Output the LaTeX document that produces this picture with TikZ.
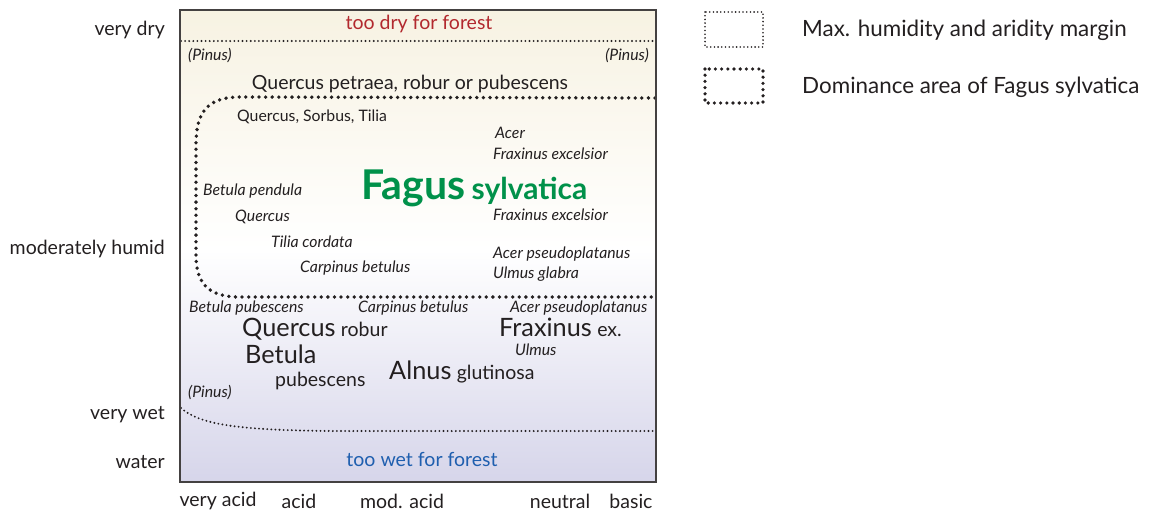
\documentclass[tikz,border=0pt]{standalone}
\usepackage{fontspec}
\setmainfont{Lato}
\definecolor{txt}{HTML}{231F20}
\definecolor{dryred}{HTML}{B2292E}
\definecolor{wetblue}{HTML}{1F5FAF}
\definecolor{fagus}{HTML}{00914A}
\definecolor{topc}{HTML}{F7F2E2}
\definecolor{botc}{HTML}{D6D5EA}
\tikzset{
  lbl/.style={text=txt,inner sep=0pt,font=\fontsize{19.5}{21}\selectfont},
  sp/.style={text=txt,inner sep=0pt,anchor=west,font=\fontsize{15.8}{17}\itshape},
  spup/.style={text=txt,inner sep=0pt,anchor=west,font=\fontsize{15.8}{17}\selectfont},
  big/.style={text=txt,inner sep=0pt,anchor=west,font=\fontsize{25.3}{27}\selectfont},
  finedot/.style={line width=2.1pt,line cap=round,dash pattern=on 0pt off 4.1pt,draw=txt},
  thickdot/.style={line width=3.8pt,line cap=round,dash pattern=on 0pt off 6.6pt,draw=txt},
}
\begin{document}
\begin{tikzpicture}[x=1pt,y=-1pt]
\useasboundingbox (0,0) rectangle (1158,512);
% background gradient
\shade[top color=topc,bottom color=white] (180,10) rectangle (656,250);
\shade[top color=white,bottom color=botc] (180,250) rectangle (656,482);
% too dry line
\coordinate (d1) at (181,41);
\coordinate (d2) at (655,41);
\draw[finedot] (d1) -- (d2);
% too wet curve
\coordinate (w1) at (181,408);
\coordinate (w2) at (655,431);
\draw[finedot] (w1) .. controls (200,425) and (240,430) .. (330,431) -- (w2);
% dominance area
\coordinate (f1) at (655,98);
\coordinate (f2) at (655,297);
\draw[thickdot] (f1) -- (240,97) .. controls (205,97) and (196,115) .. (196,145) -- (196,255) .. controls (196,285) and (210,297) .. (240,297) -- (f2);
% frame
\draw[line width=2pt,draw=txt!85] (180,10) rectangle (656,482);

% texts
\node[text=dryred,inner sep=0pt,font=\fontsize{19.5}{21}\selectfont] (dry) at (419,24) {too dry for forest};
\node[text=wetblue,inner sep=0pt,font=\fontsize{19.5}{21}\selectfont] (wet) at (422,459) {too wet for forest};
\node[sp] (p1) at (188,56) {(Pinus)};
\node[sp,anchor=east] (p2) at (649,56) {(Pinus)};
\node[lbl] (qp) at (410,84) {Quercus petraea, robur or pubescens};
\node[spup] (qst) at (237,117) {Quercus, Sorbus, Tilia};
\node[sp] (acer) at (495,133) {Acer};
\node[sp] (fe1) at (493,154) {Fraxinus excelsior};
\node[text=fagus,inner sep=0pt,anchor=base west,font=\fontsize{41}{43}\bfseries] (fg) at (361,199) {Fagus};
\node[text=fagus,inner sep=0pt,anchor=base west,font=\fontsize{30}{32}\bfseries] (fs) at ([xshift=6pt]fg.base east) {sylvatica};
\node[sp] (bp) at (203,191) {Betula pendula};
\node[sp] (q1) at (235,217) {Quercus};
\node[sp] (fe2) at (493,215) {Fraxinus excelsior};
\node[sp] (tc) at (271,242) {Tilia cordata};
\node[sp] (ap1) at (493,254) {Acer pseudoplatanus};
\node[sp] (cb1) at (300,268) {Carpinus betulus};
\node[sp] (ug) at (493,274) {Ulmus glabra};
\node[sp] (bpu) at (189,308) {Betula pubescens};
\node[sp] (cb2) at (358,308) {Carpinus betulus};
\node[sp] (ap2) at (510,308) {Acer pseudoplatanus};
\node[big,anchor=base west] (qr) at (242,336) {Quercus};
\node[lbl,anchor=base west] (rob) at ([xshift=5pt]qr.base east) {robur};
\node[big,anchor=base west] (fx) at (499,336) {Fraxinus};
\node[lbl,anchor=base west] (ex) at ([xshift=5pt]fx.base east) {ex.};
\node[sp] (ul) at (515,350) {Ulmus};
\node[big,anchor=base west] (bt) at (245,363) {Betula};
\node[big,anchor=base west] (al) at (389,379) {Alnus};
\node[lbl,anchor=base west] (gl) at ([xshift=5pt]al.base east) {glutinosa};
\node[lbl,anchor=west] (pub) at (275,381) {pubescens};
\node[sp] (p3) at (188,393) {(Pinus)};

% axis labels
\node[lbl,anchor=east] (vd) at (165,30) {very dry};
\node[lbl,anchor=east] (mh) at (165,249) {moderately humid};
\node[lbl,anchor=east] (vw) at (165,415) {very wet};
\node[lbl,anchor=east] (wa) at (165,462) {water};
\node[lbl] (va) at (218,501) {very acid};
\node[lbl] (ac) at (299,501) {acid};
\node[lbl] (ma) at (402,501) {mod. acid};
\node[lbl] (ne) at (560,501) {neutral};
\node[lbl] (ba) at (631,501) {basic};

% legend
\draw[finedot,line width=1.8pt,dash pattern=on 0pt off 3.7pt] (705,12) rectangle (763,47);
\draw[thickdot,line width=3.6pt,dash pattern=on 0pt off 6.2pt] (705,69) rectangle (763,103);
\node[lbl,anchor=west,font=\fontsize{22.4}{24}\selectfont] (l1) at (802,30) {Max. humidity and aridity margin};
\node[lbl,anchor=west,font=\fontsize{22.4}{24}\selectfont] (l2) at (802,87) {Dominance area of Fagus sylvatica};
\end{tikzpicture}
\end{document}
